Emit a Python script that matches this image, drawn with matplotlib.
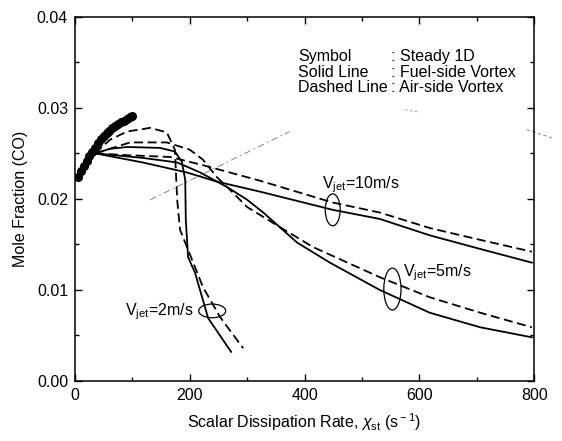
import matplotlib
matplotlib.use("Agg")
import matplotlib.pyplot as plt
from matplotlib.patches import Ellipse

plt.rcParams['font.family'] = ['Liberation Sans', 'DejaVu Sans']
plt.rcParams['mathtext.fontset'] = 'custom'
plt.rcParams['mathtext.rm'] = 'Liberation Sans'
plt.rcParams['mathtext.it'] = 'Liberation Sans:italic'

# Steady 1D (symbols)
steady_x = [5, 10, 15, 20, 25, 30, 35, 40, 45, 50, 55, 60, 65, 70, 75, 80, 85, 90, 95, 100]
steady_y = [0.0224, 0.0231, 0.0236, 0.0242, 0.0247, 0.0251, 0.0256, 0.0261, 0.0266, 0.0269,
            0.0272, 0.0275, 0.0278, 0.0280, 0.0282, 0.0284, 0.0286, 0.0288, 0.0290, 0.0291]

# Vjet = 2 m/s
v2_solid_x = [35, 61, 91, 148, 174, 186, 192, 193, 197, 209, 232, 272]
v2_solid_y = [0.0250, 0.0255, 0.0257, 0.0256, 0.0252, 0.0241, 0.0221, 0.0177, 0.0136, 0.0119, 0.0069, 0.0032]
v2_dash_x = [35, 61, 91, 131, 160, 174, 178, 183, 197, 223, 253, 293]
v2_dash_y = [0.0250, 0.0265, 0.0274, 0.0278, 0.0273, 0.0254, 0.0199, 0.0166, 0.0144, 0.0103, 0.0070, 0.0036]

# Vjet = 5 m/s
v5_solid_x = [35, 118, 178, 218, 265, 300, 328, 387, 444, 531, 618, 706, 796]
v5_solid_y = [0.0250, 0.0245, 0.0240, 0.0229, 0.0213, 0.0199, 0.0185, 0.0152, 0.0130, 0.0100, 0.0075, 0.0059, 0.0048]
v5_dash_x = [35, 96, 160, 200, 223, 247, 270, 300, 357, 415, 531, 618, 706, 796]
v5_dash_y = [0.0250, 0.0262, 0.0262, 0.0254, 0.0243, 0.0224, 0.0210, 0.0191, 0.0169, 0.0147, 0.0114, 0.0092, 0.0075, 0.0059]

# Vjet = 10 m/s
v10_solid_x = [35, 118, 195, 247, 322, 449, 531, 618, 706, 796]
v10_solid_y = [0.0250, 0.0240, 0.0229, 0.0219, 0.0208, 0.0188, 0.0178, 0.0160, 0.0145, 0.0130]
v10_dash_x = [35, 91, 166, 223, 322, 449, 531, 618, 706, 796]
v10_dash_y = [0.0250, 0.0248, 0.0246, 0.0237, 0.0220, 0.0196, 0.0185, 0.0168, 0.0155, 0.0142]

fs = 11.5

fig = plt.figure(figsize=(5.62, 4.41), dpi=100)
ax = fig.add_axes([0.1335, 0.136, 0.817, 0.826])

# faint leftover guide lines
ax.plot([131, 374], [0.0199, 0.0274], color='0.45', lw=0.6, ls=(0, (8, 4, 2, 4)))
ax.plot([575, 601], [0.0298, 0.0295], color='0.55', lw=0.6, ls=(0, (3, 3)))
ax.plot([787, 831], [0.0276, 0.0267], color='0.45', lw=0.6, ls=(0, (4, 3)), clip_on=False)

lw = 1.3
dash = (0, (5, 2.5))
ax.plot(v2_solid_x, v2_solid_y, color='k', lw=lw)
ax.plot(v2_dash_x, v2_dash_y, color='k', lw=lw, ls=dash)
ax.plot(v5_solid_x, v5_solid_y, color='k', lw=lw)
ax.plot(v5_dash_x, v5_dash_y, color='k', lw=lw, ls=dash)
ax.plot(v10_solid_x, v10_solid_y, color='k', lw=lw)
ax.plot(v10_dash_x, v10_dash_y, color='k', lw=lw, ls=dash)

ax.plot(steady_x, steady_y, 'o', color='k', ms=5.5, zorder=5)

# ellipses grouping the curves
for cx, cy, w, h in [(449, 0.0188, 26, 0.0035), (553, 0.0101, 30, 0.0046), (239, 0.0077, 47, 0.0015)]:
    ax.add_patch(Ellipse((cx, cy), w, h, fill=False, ec='k', lw=0.9))

ax.text(497, 0.0216, r'V$_{\rm jet}$=10m/s', fontsize=fs, ha='center', va='center')
ax.text(571, 0.0119, r'V$_{\rm jet}$=5m/s', fontsize=fs, ha='left', va='center')
ax.text(207, 0.0076, r'V$_{\rm jet}$=2m/s', fontsize=fs, ha='right', va='center')

rows = [('Symbol', ': Steady 1D'), ('Solid Line', ': Fuel-side Vortex'), ('Dashed Line', ': Air-side Vortex')]
for i, (a, b) in enumerate(rows):
    yy = 0.890 - i * 0.042
    ax.text(0.486, yy, a, transform=ax.transAxes, fontsize=fs, va='center')
    ax.text(0.688, yy, b, transform=ax.transAxes, fontsize=fs, va='center')

ax.set_xlim(0, 800)
ax.set_ylim(0, 0.04)
ax.set_xticks([0, 200, 400, 600, 800])
ax.set_xticks([100, 300, 500, 700], minor=True)
ax.set_yticks([0, 0.01, 0.02, 0.03, 0.04])
ax.set_yticks([0.005, 0.015, 0.025, 0.035], minor=True)
ax.set_yticklabels(['0.00', '0.01', '0.02', '0.03', '0.04'])
ax.tick_params(which='both', direction='in', top=True, right=True, labelsize=fs, width=1)
ax.tick_params(which='major', length=5, pad=5)
ax.tick_params(which='minor', length=3)
for s in ax.spines.values():
    s.set_linewidth(1.1)

ax.set_xlabel(r'Scalar Dissipation Rate, $\chi_{\rm st}$ (s$^{\rm -1}$)', fontsize=fs, labelpad=6)
ax.set_ylabel('Mole Fraction (CO)', fontsize=fs, labelpad=6)

fig.savefig('out.png', dpi=100)
